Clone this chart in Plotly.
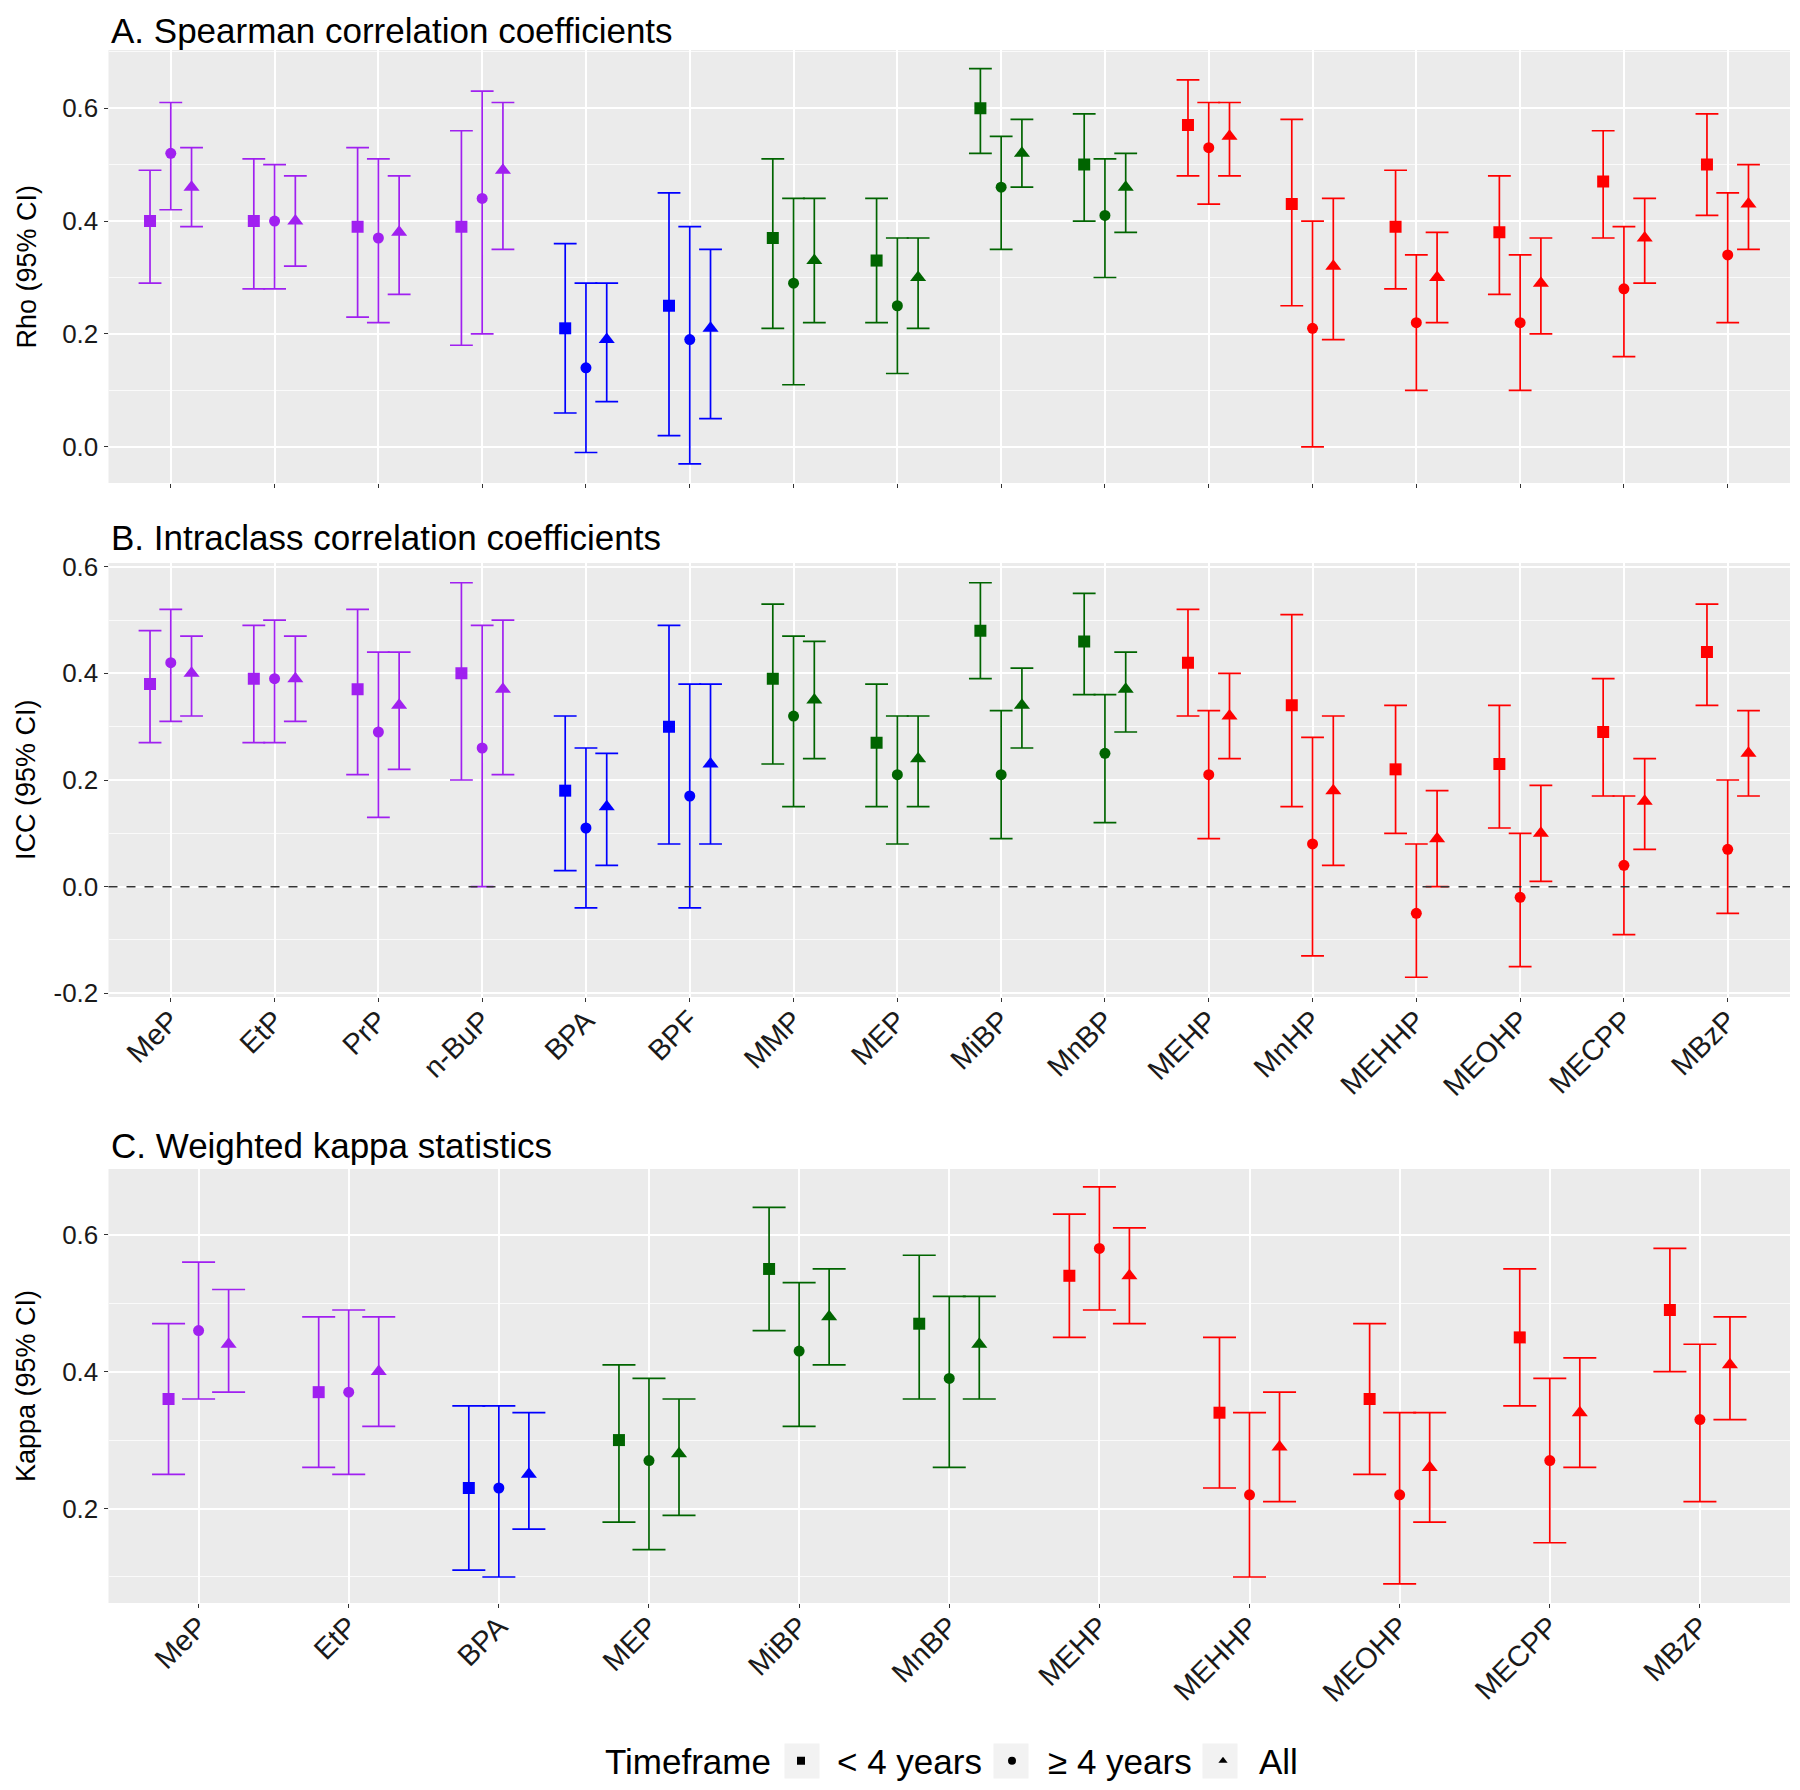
import plotly.graph_objects as go

# ---------------- data ----------------
cats_ab = ["MeP", "EtP", "PrP", "n-BuP", "BPA", "BPF", "MMP", "MEP", "MiBP", "MnBP",
           "MEHP", "MnHP", "MEHHP", "MEOHP", "MECPP", "MBzP"]
cats_c = ["MeP", "EtP", "BPA", "MEP", "MiBP", "MnBP", "MEHP", "MEHHP", "MEOHP", "MECPP", "MBzP"]

compound_class = {
    "MeP": "paraben", "EtP": "paraben", "PrP": "paraben", "n-BuP": "paraben",
    "BPA": "bisphenol", "BPF": "bisphenol",
    "MMP": "lmw", "MEP": "lmw", "MiBP": "lmw", "MnBP": "lmw",
    "MEHP": "hmw", "MnHP": "hmw", "MEHHP": "hmw", "MEOHP": "hmw", "MECPP": "hmw", "MBzP": "hmw",
}
class_colors = {"paraben": "#A020F0", "bisphenol": "#0000FF", "lmw": "#006400", "hmw": "#FF0000"}

timeframes = ["< 4 years", "\u2265 4 years", "All"]
symbols = ["square", "circle", "triangle-up"]

# A. Spearman rho
rho_lt4 = [0.40, 0.40, 0.39, 0.39, 0.21, 0.25, 0.37, 0.33, 0.60, 0.50, 0.57, 0.43, 0.39, 0.38, 0.47, 0.50]
rho_lt4_lo = [0.29, 0.28, 0.23, 0.18, 0.06, 0.02, 0.21, 0.22, 0.52, 0.40, 0.48, 0.25, 0.28, 0.27, 0.37, 0.41]
rho_lt4_hi = [0.49, 0.51, 0.53, 0.56, 0.36, 0.45, 0.51, 0.44, 0.67, 0.59, 0.65, 0.58, 0.49, 0.48, 0.56, 0.59]
rho_ge4 = [0.52, 0.40, 0.37, 0.44, 0.14, 0.19, 0.29, 0.25, 0.46, 0.41, 0.53, 0.21, 0.22, 0.22, 0.28, 0.34]
rho_ge4_lo = [0.42, 0.28, 0.22, 0.20, -0.01, -0.03, 0.11, 0.13, 0.35, 0.30, 0.43, 0.00, 0.10, 0.10, 0.16, 0.22]
rho_ge4_hi = [0.61, 0.50, 0.51, 0.63, 0.29, 0.39, 0.44, 0.37, 0.55, 0.51, 0.61, 0.40, 0.34, 0.34, 0.39, 0.45]
rho_all = [0.46, 0.40, 0.38, 0.49, 0.19, 0.21, 0.33, 0.30, 0.52, 0.46, 0.55, 0.32, 0.30, 0.29, 0.37, 0.43]
rho_all_lo = [0.39, 0.32, 0.27, 0.35, 0.08, 0.05, 0.22, 0.21, 0.46, 0.38, 0.48, 0.19, 0.22, 0.20, 0.29, 0.35]
rho_all_hi = [0.53, 0.48, 0.48, 0.61, 0.29, 0.35, 0.44, 0.37, 0.58, 0.52, 0.61, 0.44, 0.38, 0.37, 0.44, 0.50]

# B. ICC
icc_lt4 = [0.38, 0.39, 0.37, 0.40, 0.18, 0.30, 0.39, 0.27, 0.48, 0.46, 0.42, 0.34, 0.22, 0.23, 0.29, 0.44]
icc_lt4_lo = [0.27, 0.27, 0.21, 0.20, 0.03, 0.08, 0.23, 0.15, 0.39, 0.36, 0.32, 0.15, 0.10, 0.11, 0.17, 0.34]
icc_lt4_hi = [0.48, 0.49, 0.52, 0.57, 0.32, 0.49, 0.53, 0.38, 0.57, 0.55, 0.52, 0.51, 0.34, 0.34, 0.39, 0.53]
icc_ge4 = [0.42, 0.39, 0.29, 0.26, 0.11, 0.17, 0.32, 0.21, 0.21, 0.25, 0.21, 0.08, -0.05, -0.02, 0.04, 0.07]
icc_ge4_lo = [0.31, 0.27, 0.13, 0.00, -0.04, -0.04, 0.15, 0.08, 0.09, 0.12, 0.09, -0.13, -0.17, -0.15, -0.09, -0.05]
icc_ge4_hi = [0.52, 0.50, 0.44, 0.49, 0.26, 0.38, 0.47, 0.32, 0.33, 0.36, 0.33, 0.28, 0.08, 0.10, 0.17, 0.20]
icc_all = [0.40, 0.39, 0.34, 0.37, 0.15, 0.23, 0.35, 0.24, 0.34, 0.37, 0.32, 0.18, 0.09, 0.10, 0.16, 0.25]
icc_all_lo = [0.32, 0.31, 0.22, 0.21, 0.04, 0.08, 0.24, 0.15, 0.26, 0.29, 0.24, 0.04, 0.00, 0.01, 0.07, 0.17]
icc_all_hi = [0.47, 0.47, 0.44, 0.50, 0.25, 0.38, 0.46, 0.32, 0.41, 0.44, 0.40, 0.32, 0.18, 0.19, 0.24, 0.33]

# C. Weighted kappa
kap_lt4 = [0.36, 0.37, 0.23, 0.30, 0.55, 0.47, 0.54, 0.34, 0.36, 0.45, 0.49]
kap_lt4_lo = [0.25, 0.26, 0.11, 0.18, 0.46, 0.36, 0.45, 0.23, 0.25, 0.35, 0.40]
kap_lt4_hi = [0.47, 0.48, 0.35, 0.41, 0.64, 0.57, 0.63, 0.45, 0.47, 0.55, 0.58]
kap_ge4 = [0.46, 0.37, 0.23, 0.27, 0.43, 0.39, 0.58, 0.22, 0.22, 0.27, 0.33]
kap_ge4_lo = [0.36, 0.25, 0.10, 0.14, 0.32, 0.26, 0.49, 0.10, 0.09, 0.15, 0.21]
kap_ge4_hi = [0.56, 0.49, 0.35, 0.39, 0.53, 0.51, 0.67, 0.34, 0.34, 0.39, 0.44]
kap_all = [0.44, 0.40, 0.25, 0.28, 0.48, 0.44, 0.54, 0.29, 0.26, 0.34, 0.41]
kap_all_lo = [0.37, 0.32, 0.17, 0.19, 0.41, 0.36, 0.47, 0.21, 0.18, 0.26, 0.33]
kap_all_hi = [0.52, 0.48, 0.34, 0.36, 0.55, 0.51, 0.61, 0.37, 0.34, 0.42, 0.48]

panel_titles = ["A. Spearman correlation coefficients", "B. Intraclass correlation coefficients",
                "C. Weighted kappa statistics"]
y_titles = ["Rho (95% CI)", "ICC (95% CI)", "Kappa (95% CI)"]

# ---------------- layout geometry ----------------
# The browser page adds an 8px body margin, so the figure is drawn 8px in/down.
OFF = 8
W, H = 1800 - 2 * OFF, 1790 - 2 * OFF


def px_x(p):
    return (p - OFF) / W


def px_y(p):
    return 1 - (p - OFF) / H


px_left, px_right = 108.5, 1790
panel_px = [(50, 483), (563, 997), (1169, 1603)]
y_ranges = [[-0.064, 0.703], [-0.207, 0.607], [0.062, 0.696]]
y_ticks = [[0.0, 0.2, 0.4, 0.6], [-0.2, 0.0, 0.2, 0.4, 0.6], [0.2, 0.4, 0.6]]
title_py = [31, 538, 1145]

FONT = "Liberation Sans, Arial, Helvetica, sans-serif"
dodge = [-0.2, 0.0, 0.2]

panels = [
    (cats_ab, [(rho_lt4, rho_lt4_lo, rho_lt4_hi), (rho_ge4, rho_ge4_lo, rho_ge4_hi), (rho_all, rho_all_lo, rho_all_hi)]),
    (cats_ab, [(icc_lt4, icc_lt4_lo, icc_lt4_hi), (icc_ge4, icc_ge4_lo, icc_ge4_hi), (icc_all, icc_all_lo, icc_all_hi)]),
    (cats_c, [(kap_lt4, kap_lt4_lo, kap_lt4_hi), (kap_ge4, kap_ge4_lo, kap_ge4_hi), (kap_all, kap_all_lo, kap_all_hi)]),
]

fig = go.Figure()
marker_sizes = [12, 11, 14]

for p, (cats, series) in enumerate(panels):
    ax = "" if p == 0 else str(p + 1)
    n = len(cats)
    units_px = (px_right - px_left) / (n + 0.2)
    cap = 0.11 * units_px
    for t, (vals, lo, hi) in enumerate(series):
        for cls, col in class_colors.items():
            idx = [i for i, c in enumerate(cats) if compound_class[c] == cls]
            if not idx:
                continue
            fig.add_trace(go.Scatter(
                x=[i + dodge[t] for i in idx],
                y=[vals[i] for i in idx],
                mode="markers",
                marker=dict(symbol=symbols[t], size=marker_sizes[t], color=col, line=dict(width=0)),
                error_y=dict(type="data", symmetric=False,
                             array=[hi[i] - vals[i] for i in idx],
                             arrayminus=[vals[i] - lo[i] for i in idx],
                             color=col, thickness=1.7, width=cap),
                xaxis="x" + ax, yaxis="y" + ax,
                showlegend=False, hoverinfo="skip",
            ))

# legend entries
for t in range(3):
    fig.add_trace(go.Scatter(
        x=[None], y=[None], mode="markers", name=timeframes[t],
        marker=dict(symbol=symbols[t], size=8, color="black"),
        xaxis="x3", yaxis="y3", showlegend=True,
    ))

LEG_Y = 1761
LEG_X0 = 765           # left edge of the first legend entry (page px)
LEG_ENTRY = 134        # entry width (px)
LEG_STEP = 209         # resulting distance between successive keys (px)
KEY_SIZE = 35

layout = dict(
    width=W, height=H, margin=dict(l=0, r=0, t=0, b=0, autoexpand=False),
    paper_bgcolor="white", plot_bgcolor="#EBEBEB",
    font=dict(family=FONT, color="black"),
    showlegend=True,
    legend=dict(orientation="h", x=px_x(LEG_X0), xanchor="left", y=px_y(LEG_Y), yanchor="middle",
                font=dict(size=35, color="black", family=FONT), itemwidth=62,
                entrywidthmode="pixels", entrywidth=LEG_ENTRY,
                bgcolor="rgba(0,0,0,0)", borderwidth=0),
    annotations=[], shapes=[],
)

# legend title as text to the left of the keys
layout["annotations"].append(dict(
    text="Timeframe", x=px_x(603), y=px_y(LEG_Y), xref="paper", yref="paper",
    xanchor="left", yanchor="middle", showarrow=False, font=dict(size=35, color="black", family=FONT)))

# grey legend-key backgrounds (ggplot style) behind the legend symbols
for t in range(3):
    cx = LEG_X0 + 37 + t * LEG_STEP
    layout["shapes"].append(dict(
        type="rect", xref="paper", yref="paper",
        x0=px_x(cx - KEY_SIZE / 2), x1=px_x(cx + KEY_SIZE / 2),
        y0=px_y(LEG_Y + KEY_SIZE / 2), y1=px_y(LEG_Y - KEY_SIZE / 2),
        fillcolor="#F2F2F2", line=dict(width=0), layer="below"))

for p, (cats, series) in enumerate(panels):
    key = "" if p == 0 else str(p + 1)
    top, bot = panel_px[p]
    n = len(cats)
    layout["xaxis" + key] = dict(
        domain=[px_x(px_left), px_x(px_right)], range=[-0.6, n - 0.4], anchor="y" + key,
        tickmode="array", tickvals=list(range(n)), ticktext=cats if p > 0 else [""] * n,
        showticklabels=(p > 0), tickangle=-45, ticklabelstandoff=-10,
        tickfont=dict(size=29, color="#1A1A1A", family=FONT),
        ticks="outside", ticklen=4, tickcolor="#333333", tickwidth=1.2,
        showgrid=True, gridcolor="white", gridwidth=1.8, zeroline=False, showline=False,
        automargin=False, fixedrange=True,
    )
    layout["yaxis" + key] = dict(
        domain=[px_y(bot), px_y(top)], range=y_ranges[p], anchor="x" + key,
        tickmode="array", tickvals=y_ticks[p], ticktext=[f"{v:.1f}" for v in y_ticks[p]],
        tickfont=dict(size=26, color="#1A1A1A", family=FONT),
        ticks="outside", ticklen=4, tickcolor="#333333", tickwidth=1.2,
        showgrid=True, gridcolor="white", gridwidth=1.8, zeroline=False, showline=False,
        minor=dict(dtick=0.1, tick0=0.1, showgrid=True, gridcolor="#FAFAFA", gridwidth=0.9, ticks=""),
        automargin=False, fixedrange=True,
    )
    layout["annotations"].append(dict(
        text=panel_titles[p], x=px_x(px_left), y=px_y(title_py[p]), xref="paper", yref="paper",
        xanchor="left", yanchor="middle", showarrow=False, font=dict(size=35, color="black", family=FONT)))
    layout["annotations"].append(dict(
        text=y_titles[p], x=px_x(26), y=px_y((top + bot) / 2), xref="paper", yref="paper",
        xanchor="center", yanchor="middle", textangle=-90, showarrow=False,
        font=dict(size=27, color="black", family=FONT)))

# dashed reference line at zero in panel B
layout["shapes"].append(dict(type="line", xref="x2 domain", yref="y2", x0=0, x1=1, y0=0, y1=0,
                             line=dict(color="#333333", width=1.5, dash="dash"), layer="above"))

fig.update_layout(**layout)
fig.write_html("out.html")
